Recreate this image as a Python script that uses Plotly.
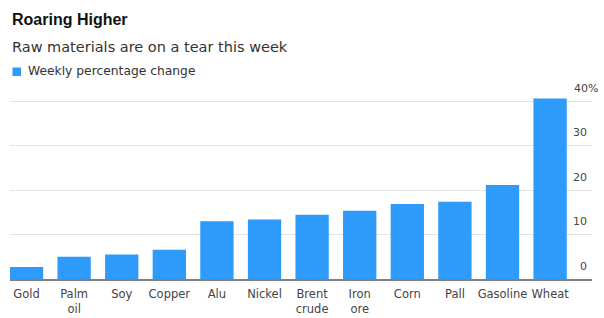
import plotly.graph_objects as go

categories = ["Gold", "Palm<br>oil", "Soy", "Copper", "Alu", "Nickel", "Brent<br>crude",
              "Iron<br>ore", "Corn", "Pall", "Gasoline", "Wheat"]
weekly_change = [2.7, 5.0, 5.5, 6.6, 13.0, 13.4, 14.5, 15.4, 16.9, 17.4, 21.2, 40.7]
y_ticks = [0, 10, 20, 30, 40]
series_name = "Weekly percentage change"
title = "Roaring Higher"
subtitle = "Raw materials are on a tear this week"

FONT = "DejaVu Sans, Verdana, sans-serif"
TITLE_FONT = "Liberation Sans, Arial, sans-serif"
BLUE = "#2E9BFA"

L, R, T, B = 10, 12, 95, 39
W, H = 604, 318
PW, PH = W - L - R, H - T - B


def px_x(px):
    return (px - L) / PW


def px_y(py):
    return (H - B - py) / PH


fig = go.Figure()
fig.add_trace(go.Bar(x=categories, y=weekly_change, name=series_name,
                     marker=dict(color=BLUE, line=dict(width=0)), showlegend=False))

annotations = [
    dict(text="<b>" + title + "</b>", xref="paper", yref="paper", x=0, y=px_y(19.5),
         xanchor="left", yanchor="middle", showarrow=False,
         font=dict(size=16, color="#111", family=TITLE_FONT)),
    dict(text=subtitle, xref="paper", yref="paper",
         x=0, y=px_y(47), xanchor="left", yanchor="middle", showarrow=False,
         font=dict(size=14.5, color="#333", family=FONT)),
    dict(text=series_name, xref="paper", yref="paper",
         x=px_x(26), y=px_y(71.5), xanchor="left", yanchor="middle", showarrow=False,
         font=dict(size=12.3, color="#333", family=FONT)),
]
for i, v in enumerate(y_ticks):
    last = i == len(y_ticks) - 1
    annotations.append(dict(
        text=f"{v}%" if last else f"{v}", xref="paper", yref="y", x=1, y=v,
        xanchor="right", yanchor="middle", yshift=13, xshift=(8 if last else -3),
        showarrow=False, font=dict(size=11, color="#444", family=FONT)))

fig.update_layout(
    width=W, height=H,
    margin=dict(l=L, r=R, t=T, b=B, autoexpand=False),
    paper_bgcolor="white", plot_bgcolor="white",
    font=dict(family=FONT, color="#444", size=11),
    bargap=0.3,
    showlegend=False,
    xaxis=dict(type="category", range=[-0.347, 11.88], showgrid=False,
               showline=True, linecolor="#808080", linewidth=1.5,
               ticks="", ticklabelstandoff=3,
               tickfont=dict(size=11.5, color="#444")),
    yaxis=dict(range=[0, 41.5], side="right", tickvals=y_ticks,
               showticklabels=False,
               showgrid=True, gridcolor="#e3e3e3", gridwidth=1,
               zeroline=False),
    shapes=[dict(type="rect", xref="paper", yref="paper",
                 x0=px_x(12.5), x1=px_x(21), y0=px_y(76), y1=px_y(67.5),
                 fillcolor=BLUE, line=dict(width=0))],
    annotations=annotations,
)

fig.write_html("out.html", config={"displayModeBar": False},
               post_script="document.body.style.margin='0';")
